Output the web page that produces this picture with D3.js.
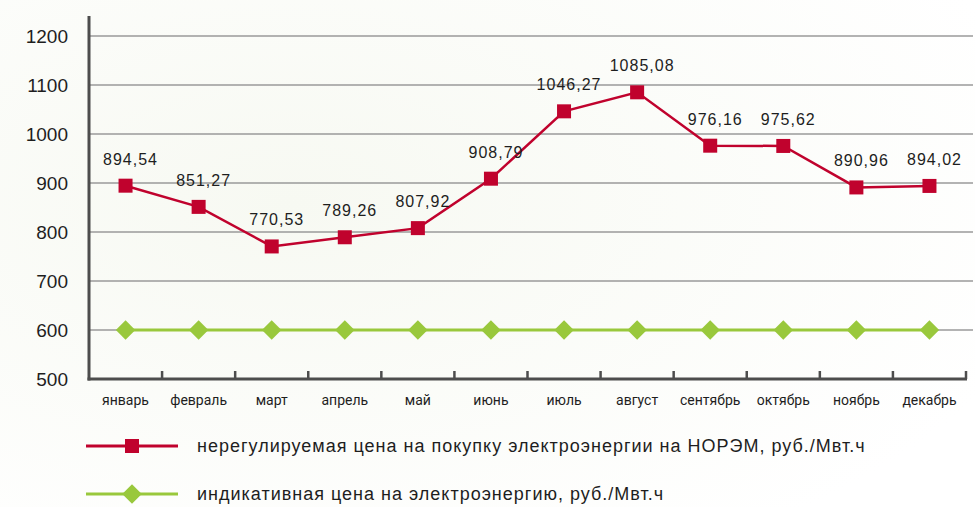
<!DOCTYPE html>
<html>
<head>
<meta charset="utf-8">
<script src="https://cdn.jsdelivr.net/npm/d3@7"></script>
<style>
  html, body { margin: 0; padding: 0; background: #fff; }
  #chart { width: 975px; height: 507px; }
  text { font-family: "Liberation Sans", Arial, sans-serif; fill: #1e1e1e; }
</style>
</head>
<body>
<div id="chart"></div>
<script>
const months = ["январь", "февраль", "март", "апрель", "май", "июнь",
  "июль", "август", "сентябрь", "октябрь", "ноябрь", "декабрь"];
const freePrice = [894.54, 851.27, 770.53, 789.26, 807.92, 908.79,
  1046.27, 1085.08, 976.16, 975.62, 890.96, 894.02];
const indicativePrice = [600, 600, 600, 600, 600, 600, 600, 600, 600, 600, 600, 600];
const yTicks = [500, 600, 700, 800, 900, 1000, 1100, 1200];
const seriesNames = [
  "нерегулируемая цена на покупку электроэнергии на НОРЭМ, руб./Мвт.ч",
  "индикативная цена на электроэнергию, руб./Мвт.ч"
];

const red = "#c0022d";
const green = "#99c83c";

const width = 975, height = 507;
const plotLeft = 89, plotRight = 966, plotTop = 36, plotBottom = 379;

const svg = d3.select("#chart").append("svg")
  .attr("width", width)
  .attr("height", height);

// faint background wash
const defs = svg.append("defs");
const grad = defs.append("radialGradient").attr("id", "bg")
  .attr("cx", "30%").attr("cy", "40%").attr("r", "80%");
grad.append("stop").attr("offset", "0%").attr("stop-color", "#f7f9f2");
grad.append("stop").attr("offset", "100%").attr("stop-color", "#ffffff");
svg.append("rect").attr("width", width).attr("height", height).attr("fill", "url(#bg)");

const x = d3.scaleBand().domain(months).range([plotLeft, plotRight]);
const y = d3.scaleLinear().domain([500, 1200]).range([plotBottom, plotTop]);
const cx = (m) => x(m) + x.bandwidth() / 2;

// gridlines
svg.append("g")
  .selectAll("line")
  .data(yTicks.filter((d) => d > 500))
  .join("line")
  .attr("x1", plotLeft).attr("x2", 973)
  .attr("y1", (d) => y(d)).attr("y2", (d) => y(d))
  .attr("stroke", "#9a9a9a")
  .attr("stroke-width", 1.4);

// y labels
svg.append("g")
  .selectAll("text")
  .data(yTicks)
  .join("text")
  .attr("x", 68)
  .attr("y", (d) => y(d) + 7)
  .attr("text-anchor", "end")
  .style("font-size", "19px")
  .text((d) => d);

// axes
svg.append("line")
  .attr("x1", plotLeft).attr("x2", plotLeft)
  .attr("y1", 16).attr("y2", plotBottom + 1.5)
  .attr("stroke", "#4d4d4d").attr("stroke-width", 3);
svg.append("line")
  .attr("x1", plotLeft - 1.5).attr("x2", plotRight + 1)
  .attr("y1", plotBottom).attr("y2", plotBottom)
  .attr("stroke", "#4d4d4d").attr("stroke-width", 3);

// x ticks at band boundaries
svg.append("g")
  .selectAll("line")
  .data(months.slice(1).map((m) => x(m)).concat([plotRight]))
  .join("line")
  .attr("x1", (d) => d).attr("x2", (d) => d)
  .attr("y1", plotBottom - 8).attr("y2", plotBottom)
  .attr("stroke", "#4d4d4d").attr("stroke-width", 2.5);

// month labels
svg.append("g")
  .selectAll("text")
  .data(months)
  .join("text")
  .attr("x", (d) => cx(d))
  .attr("y", 405)
  .attr("text-anchor", "middle")
  .style("font-family", "Roboto, sans-serif")
  .style("font-size", "14px")
  .text((d) => d);

// indicative line
const lineGen = d3.line().x((d, i) => cx(months[i])).y((d) => y(d));
svg.append("path")
  .datum(indicativePrice)
  .attr("d", lineGen)
  .attr("fill", "none")
  .attr("stroke", green)
  .attr("stroke-width", 3);

const diamond = d3.symbol().type(d3.symbolSquare).size(190);
svg.append("g")
  .selectAll("path")
  .data(indicativePrice)
  .join("path")
  .attr("d", diamond)
  .attr("transform", (d, i) => `translate(${cx(months[i])},${y(d)}) rotate(45)`)
  .attr("fill", green);

// free price line
svg.append("path")
  .datum(freePrice)
  .attr("d", lineGen)
  .attr("fill", "none")
  .attr("stroke", red)
  .attr("stroke-width", 2.5);

svg.append("g")
  .selectAll("rect")
  .data(freePrice)
  .join("rect")
  .attr("x", (d, i) => cx(months[i]) - 7)
  .attr("y", (d) => y(d) - 7)
  .attr("width", 14).attr("height", 14)
  .attr("fill", red);

// value labels
svg.append("g")
  .selectAll("text")
  .data(freePrice)
  .join("text")
  .attr("x", (d, i) => cx(months[i]) + 5)
  .attr("y", (d) => y(d) - 21)
  .attr("text-anchor", "middle")
  .style("font-size", "16px")
  .style("letter-spacing", "1px")
  .text((d) => d3.format(".2f")(d).replace(".", ","));

// legend
const legend = svg.append("g");
const legendY = [446, 494];
legend.selectAll("line")
  .data(seriesNames)
  .join("line")
  .attr("x1", 86).attr("x2", 178)
  .attr("y1", (d, i) => legendY[i]).attr("y2", (d, i) => legendY[i])
  .attr("stroke", (d, i) => i === 0 ? red : green)
  .attr("stroke-width", 3);
legend.append("rect")
  .attr("x", 125).attr("y", legendY[0] - 7)
  .attr("width", 14).attr("height", 14)
  .attr("fill", red);
legend.append("path")
  .attr("d", diamond)
  .attr("transform", `translate(132,${legendY[1]}) rotate(45)`)
  .attr("fill", green);
legend.selectAll("text")
  .data(seriesNames)
  .join("text")
  .attr("x", 197)
  .attr("y", (d, i) => legendY[i] + 6)
  .style("font-size", "18px")
  .style("letter-spacing", "1px")
  .text((d) => d);
</script>
</body>
</html>
